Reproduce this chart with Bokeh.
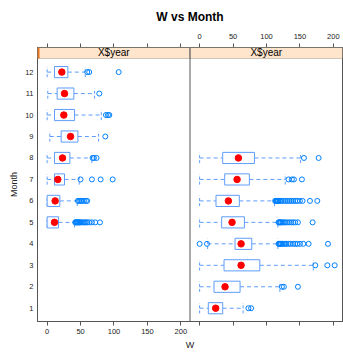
from bokeh.plotting import figure
from bokeh.models import (Range1d, LinearAxis, FixedTicker, Span, BoxAnnotation,
                          Label, ColumnDataSource, Title)
from bokeh.embed import file_html
from bokeh.resources import INLINE

# ---------------- data ----------------
months_L = [5, 6, 7, 8, 9, 10, 11, 12]
lo_L  = [0, 0, 0, 0, 4, 0, 1, 0]
q1_L  = [0, 0, 11, 11, 21, 11, 15, 11]
med_L = [11, 12, 16, 23, 35, 25, 26, 22]
q3_L  = [17, 19, 26, 34, 46, 41, 40, 31]
hi_L  = [41, 45, 48, 67, 77, 81, 71, 57]
out_L = {
    5: [42, 43, 44, 45, 46, 47, 48, 49, 50, 52, 54, 56, 58, 60, 63, 67, 72, 79],
    6: [46, 48, 50, 52, 55, 58, 60],
    7: [50, 67, 80, 98],
    8: [68, 70, 74],
    9: [87],
    10: [88, 91, 93],
    11: [78],
    12: [60, 63, 107],
}

months_R = [1, 2, 3, 4, 5, 6, 7, 8]
lo_R  = [0, 0, 0, 12, 0, 0, 0, 0]
q1_R  = [13, 21.5, 36.5, 53, 33, 24.5, 37.5, 34.5]
med_R = [24, 38, 62, 62, 48.5, 43, 56, 58]
q3_R  = [34.5, 60.5, 90, 78, 67, 59.4, 74.4, 82]
hi_R  = [65, 120, 170, 117, 117, 112, 128, 151]
out_R = {
    1: [73, 77],
    2: [123, 126, 147],
    3: [173, 191, 202],
    4: [0, 11, 118, 119, 120, 121, 122, 124, 126, 128, 130, 133, 136, 140, 143,
        146, 150, 155, 163, 192],
    5: [118, 119, 120, 121, 122, 124, 126, 128, 131, 134, 137, 140, 143, 147, 169],
    6: [113, 114, 115, 116, 117, 118, 120, 122, 125, 128, 131, 134, 137, 140, 143,
        146, 150, 154, 165, 176],
    7: [133, 138, 141, 153],
    8: [156, 178],
}

x_ticks = [0, 50, 100, 150, 200]
month_ticks = list(range(1, 13))
strip_label = "X$year"
title_text = "W vs Month"
x_label = "W"
y_label = "Month"

# ---------------- layout constants ----------------
W, H = 343, 354
BL, BR, BT, BB = 37, 1, 46, 33
X0 = -14.4          # left edge of left panel (data units)
D = 228.1           # offset of right panel (data units)
DIV = X0 + D        # divider
Y0, YSTRIP, Y1 = 0.382, 12.635, 13.146

BOX_COL = "#5f9dfa"
PT_COL = "#0080ff"
FRAME_COL = "#555555"
FONT = "Liberation Sans"

p = figure(width=W, height=H, output_backend="svg", toolbar_location=None,
           x_range=Range1d(X0, X0 + 2 * D), y_range=Range1d(Y0, Y1),
           x_axis_location=None, y_axis_location=None,
           min_border_left=BL, min_border_right=BR, min_border_top=BT,
           min_border_bottom=BB)
p.extra_x_ranges = {"right": Range1d(X0 - D, X0 + D)}
p.grid.visible = False
p.outline_line_color = FRAME_COL
p.background_fill_color = "white"


def panel(months, lo, q1, med, q3, hi, outs, rng):
    src = ColumnDataSource(dict(m=months, lo=lo, q1=q1, med=med, q3=q3, hi=hi,
                                mb=[m - 0.24 for m in months],
                                mt=[m + 0.24 for m in months]))
    kw = {} if rng is None else {"x_range_name": rng}
    p.segment(x0="lo", y0="m", x1="q1", y1="m", source=src, line_color=BOX_COL,
              line_dash="4 3", line_width=1, **kw)
    p.segment(x0="q3", y0="m", x1="hi", y1="m", source=src, line_color=BOX_COL,
              line_dash="4 3", line_width=1, **kw)
    p.segment(x0="lo", y0="mb", x1="lo", y1="mt", source=src, line_color=BOX_COL,
              line_dash="3 2", line_width=1, **kw)
    p.segment(x0="hi", y0="mb", x1="hi", y1="mt", source=src, line_color=BOX_COL,
              line_dash="3 2", line_width=1, **kw)
    p.hbar(y="m", left="q1", right="q3", height=0.52, source=src,
           fill_color="white", line_color=BOX_COL, line_width=1, **kw)
    ox, oy = [], []
    for m, vals in outs.items():
        ox += vals
        oy += [m] * len(vals)
    p.scatter(ox, oy, marker="circle", size=5, fill_color=None,
              line_color=PT_COL, line_width=1, **kw)
    p.scatter(x="med", y="m", source=src, marker="circle", size=6.5,
              fill_color="#ff0000", line_color="#ff0000", **kw)


panel(months_L, lo_L, q1_L, med_L, q3_L, hi_L, out_L, None)
panel(months_R, lo_R, q1_R, med_R, q3_R, hi_R, out_R, "right")

# strips
p.add_layout(BoxAnnotation(left=X0, right=DIV, bottom=YSTRIP, top=Y1,
                           fill_color="#ffe5cc", fill_alpha=1,
                           line_color=FRAME_COL, line_width=1))
p.add_layout(BoxAnnotation(left=DIV, right=X0 + 2 * D, bottom=YSTRIP, top=Y1,
                           fill_color="#ffe5cc", fill_alpha=1,
                           line_color=FRAME_COL, line_width=1))
p.add_layout(BoxAnnotation(left=X0, right=X0 + 3, bottom=YSTRIP, top=Y1,
                           fill_color="#e8751a", fill_alpha=1, line_color=None))
for cx in (X0 + D / 2, X0 + 1.5 * D):
    p.add_layout(Label(x=cx, y=(YSTRIP + Y1) / 2, text=strip_label,
                       text_align="center", text_baseline="middle",
                       text_font=FONT, text_font_size="10px",
                       text_color="#000000"))
p.add_layout(Span(location=DIV, dimension="height", line_color=FRAME_COL,
                  line_width=1))

# axes
all_ticks = [float(t) for t in x_ticks] + [float(t + D) for t in x_ticks]


def style(ax):
    ax.axis_line_color = FRAME_COL
    ax.major_tick_line_color = FRAME_COL
    ax.major_tick_in = 0
    ax.major_tick_out = 4
    ax.minor_tick_line_color = None
    ax.major_label_text_font = FONT
    ax.major_label_text_font_size = "7.5px"
    ax.major_label_text_color = "#222222"
    ax.major_label_standoff = 3


bottom = LinearAxis(ticker=FixedTicker(ticks=all_ticks))
bottom.major_label_overrides = {float(t + D): "" for t in x_ticks}
bottom.major_label_overrides.update({float(t): str(t) for t in x_ticks})
style(bottom)
p.add_layout(bottom, "below")

top = LinearAxis(ticker=FixedTicker(ticks=all_ticks))
top.major_label_overrides = {float(t): "" for t in x_ticks}
top.major_label_overrides.update({float(t + D): str(t) for t in x_ticks})
style(top)
top.major_label_standoff = 5
p.add_layout(top, "above")

left = LinearAxis(ticker=FixedTicker(ticks=month_ticks))
style(left)
left.major_tick_out = 0
left.major_label_standoff = 4
p.add_layout(left, "left")

# titles
p.title.text = title_text
p.title.text_font = FONT
p.title.text_font_size = "12px"
p.title.text_font_style = "bold"
p.title.align = "center"
p.title.offset = -7
p.title.standoff = 14
p.title.text_color = "#000000"

p.add_layout(Title(text=x_label, align="center", text_font=FONT,
                   text_font_size="9px", text_font_style="normal",
                   text_color="#222222", standoff=2), "below")
p.add_layout(Title(text=y_label, align="center", text_font=FONT,
                   text_font_size="9px", text_font_style="normal",
                   text_color="#222222", standoff=7), "left")

open("out.html", "w").write(file_html(p, INLINE))
